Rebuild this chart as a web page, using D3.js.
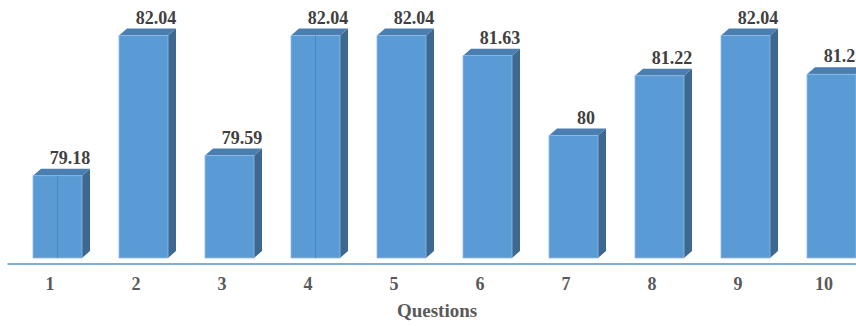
<!DOCTYPE html>
<html><head><meta charset="utf-8">
<script src="https://cdn.jsdelivr.net/npm/d3@7/dist/d3.min.js"></script>
<style>html,body{margin:0;padding:0;background:#fff;overflow:hidden}</style>
</head><body>
<svg id="chart" width="856" height="326"></svg>
<script>
const categories = ["1","2","3","4","5","6","7","8","9","10"];
const values = [79.18, 82.04, 79.59, 82.04, 82.04, 81.63, 80, 81.22, 82.04, 81.25];
const axisTitle = "Questions";
const splitCategories = ["1","4"];

const svg = d3.select("#chart");
const x = d3.scaleBand().domain(categories).range([7, 867]).padding(0);
const y = d3.scaleLinear().domain([77.5, 82.5]).range([258, 13]);

const dx = 8, dy = 7, offL = -17, bw = 49;
const font = "'Liberation Serif','Times New Roman',serif";

const g = svg.append("g");
categories.forEach((c, i) => {
  const cx = x(c) + x.bandwidth() / 2;
  const x0 = cx + offL, x1 = x0 + bw;
  const yt = y(values[i]), yb = y.range()[0];
  g.append("path")
    .attr("d", `M${x1},${yt} L${x1+dx},${yt-dy} L${x1+dx},${yb-dy} L${x1},${yb} Z`)
    .attr("fill", "#3d6990");
  g.append("path")
    .attr("d", `M${x0},${yt} L${x0+dx},${yt-dy} L${x1+dx},${yt-dy} L${x1},${yt} Z`)
    .attr("fill", "#4a7db0");
  g.append("rect")
    .attr("x", x0).attr("y", yt).attr("width", bw).attr("height", yb - yt)
    .attr("fill", "#5b9bd5").attr("stroke", "#8fbbe6").attr("stroke-width", 0.8);
  if (splitCategories.includes(c)) {
    g.append("line")
      .attr("x1", x0 + bw / 2).attr("x2", x0 + bw / 2)
      .attr("y1", yt).attr("y2", yb)
      .attr("stroke", "#4a86c0").attr("stroke-width", 1);
  }
  g.append("text")
    .attr("x", cx + 20).attr("y", yt - 12)
    .attr("text-anchor", "middle")
    .attr("font-family", font).attr("font-weight", "bold").attr("font-size", "18px")
    .attr("fill", "#404040")
    .text(values[i]);
});

const axis = d3.axisBottom(x).tickSize(0).tickPadding(14);
const ax = svg.append("g").attr("transform", "translate(0,263.5)").call(axis);
ax.select(".domain").attr("stroke", "#7fadd9").attr("stroke-width", 2);
ax.selectAll("text")
  .attr("font-family", font).attr("font-weight", "bold").attr("font-size", "18px")
  .attr("fill", "#595959");

svg.append("text")
  .attr("x", 437).attr("y", 317)
  .attr("text-anchor", "middle")
  .attr("font-family", font).attr("font-weight", "bold").attr("font-size", "19px")
  .attr("fill", "#595959")
  .text(axisTitle);
</script>
</body></html>
